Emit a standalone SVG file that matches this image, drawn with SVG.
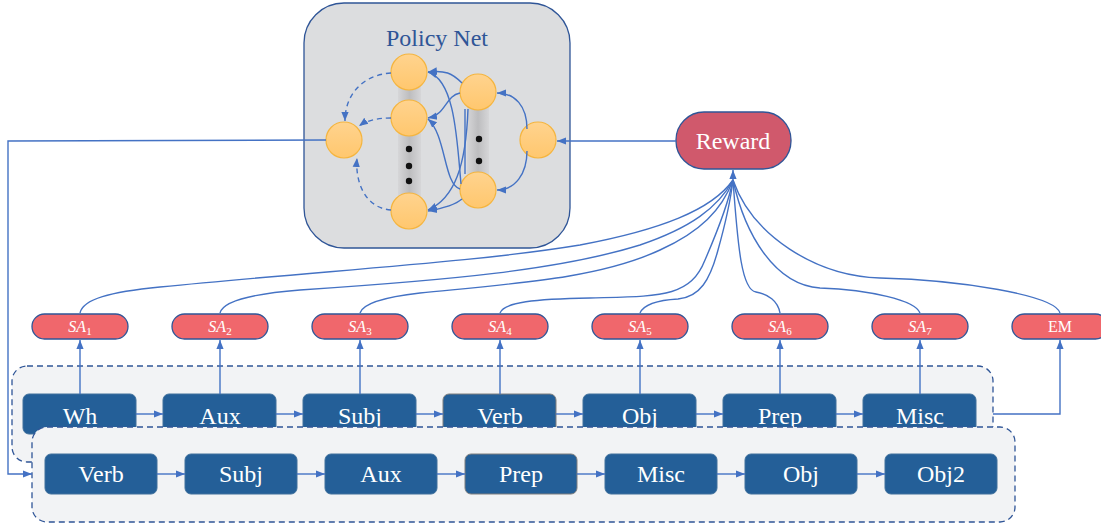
<svg xmlns="http://www.w3.org/2000/svg" width="1101" height="529" viewBox="0 0 1101 529">
<style>
.node rect{fill:#245F98;stroke:#41719C;stroke-width:1}
.node text{fill:#fff;font-family:"Liberation Serif",serif;font-size:24px;text-anchor:middle}
.pill rect{fill:#F0676C;stroke:#2F5597;stroke-width:1.3}
.pill text{fill:#fff;font-family:"Liberation Serif",serif;font-size:16px;text-anchor:middle}
.pill .it{font-style:italic}
.pill .sub{font-size:11px}
.dbox{fill:#F2F3F5;stroke:#2F5597;stroke-width:1.3;stroke-dasharray:6 4}
.c{fill:none;stroke:#4472C4;stroke-width:1.4}
.ca{fill:none;stroke:#4472C4;stroke-width:1.4;marker-end:url(#ah)}
.cd{fill:none;stroke:#4472C4;stroke-width:1.4;stroke-dasharray:5 4;marker-end:url(#ah)}
.circ{fill:url(#og);stroke:#F5B53F;stroke-width:1.2}
.dot{fill:#111}
</style>
<defs>
<marker id="ah" viewBox="0 0 10 10" refX="10" refY="5" markerWidth="9" markerHeight="9" markerUnits="userSpaceOnUse" orient="auto">
<path d="M0,1 L10,5 L0,9 z" fill="#4472C4"/>
</marker>
<linearGradient id="og" x1="0" y1="0" x2="0" y2="1">
<stop offset="0" stop-color="#FFD38E"/>
<stop offset="1" stop-color="#FFC76E"/>
</linearGradient>
<linearGradient id="bar" x1="0" y1="0" x2="1" y2="0">
<stop offset="0" stop-color="#D6D6D8"/>
<stop offset="0.5" stop-color="#BDBDBF"/>
<stop offset="1" stop-color="#D6D6D8"/>
</linearGradient>
</defs>

<g id="policy-net">
<rect x="304" y="3" width="266" height="245" rx="40" fill="#DCDDDF" stroke="#2F5597" stroke-width="1.3"/>
<text x="437" y="46" font-family="Liberation Serif,serif" font-size="24" fill="#2F5597" text-anchor="middle">Policy Net</text>
<rect x="398" y="72" width="23" height="139" fill="url(#bar)"/>
<rect x="467" y="92" width="22" height="98" fill="url(#bar)"/>
<circle class="dot" cx="409" cy="149" r="3.2"/>
<circle class="dot" cx="409" cy="166" r="3.2"/>
<circle class="dot" cx="409" cy="181" r="3.2"/>
<circle class="dot" cx="479" cy="139" r="3.2"/>
<circle class="dot" cx="479" cy="161" r="3.2"/>
<circle class="circ" cx="344" cy="140" r="18"/>
<circle class="circ" cx="409" cy="72" r="18"/>
<circle class="circ" cx="409" cy="118" r="18"/>
<circle class="circ" cx="409" cy="211" r="18"/>
<circle class="circ" cx="478" cy="92" r="18"/>
<circle class="circ" cx="478" cy="190" r="18"/>
<circle class="circ" cx="538" cy="140" r="18"/>
</g>

<g id="reward">
<rect x="676" y="112" width="115" height="57" rx="28" fill="#D0596C" stroke="#2F5597" stroke-width="1.3"/>
<text x="733" y="149" font-family="Liberation Serif,serif" font-size="24" fill="#fff" text-anchor="middle">Reward</text>
</g>

<g id="sa1" class="pill"><rect x="32" y="314" width="96" height="25" rx="12.5"/><text x="80" y="332"><tspan class="it">SA</tspan><tspan class="sub" dy="3">1</tspan></text></g>
<g id="sa2" class="pill"><rect x="172" y="314" width="96" height="25" rx="12.5"/><text x="220" y="332"><tspan class="it">SA</tspan><tspan class="sub" dy="3">2</tspan></text></g>
<g id="sa3" class="pill"><rect x="312" y="314" width="96" height="25" rx="12.5"/><text x="360" y="332"><tspan class="it">SA</tspan><tspan class="sub" dy="3">3</tspan></text></g>
<g id="sa4" class="pill"><rect x="452" y="314" width="96" height="25" rx="12.5"/><text x="500" y="332"><tspan class="it">SA</tspan><tspan class="sub" dy="3">4</tspan></text></g>
<g id="sa5" class="pill"><rect x="592" y="314" width="96" height="25" rx="12.5"/><text x="640" y="332"><tspan class="it">SA</tspan><tspan class="sub" dy="3">5</tspan></text></g>
<g id="sa6" class="pill"><rect x="732" y="314" width="96" height="25" rx="12.5"/><text x="780" y="332"><tspan class="it">SA</tspan><tspan class="sub" dy="3">6</tspan></text></g>
<g id="sa7" class="pill"><rect x="872" y="314" width="96" height="25" rx="12.5"/><text x="920" y="332"><tspan class="it">SA</tspan><tspan class="sub" dy="3">7</tspan></text></g>
<g id="em" class="pill"><rect x="1012" y="314" width="96" height="25" rx="12.5"/><text x="1060" y="332">EM</text></g>

<g id="seq1">
<rect class="dbox" x="12" y="366" width="981" height="96" rx="15"/>
<g id="t-wh" class="node"><rect x="23" y="394" width="113" height="40" rx="6"/><text x="80" y="424">Wh</text></g>
<g id="t-aux" class="node"><rect x="163" y="394" width="113" height="40" rx="6"/><text x="220" y="424">Aux</text></g>
<g id="t-subj" class="node"><rect x="303" y="394" width="113" height="40" rx="6"/><text x="360" y="424">Subj</text></g>
<g id="t-verb" class="node"><rect x="443" y="394" width="113" height="40" rx="6" style="stroke:#7F7F7F"/><text x="500" y="424">Verb</text></g>
<g id="t-obj" class="node"><rect x="583" y="394" width="113" height="40" rx="6"/><text x="640" y="424">Obj</text></g>
<g id="t-prep" class="node"><rect x="723" y="394" width="113" height="40" rx="6"/><text x="780" y="424">Prep</text></g>
<g id="t-misc" class="node"><rect x="863" y="394" width="113" height="40" rx="6"/><text x="920" y="424">Misc</text></g>
</g>

<g id="seq2">
<rect class="dbox" x="32" y="427" width="983" height="95" rx="15"/>
<g id="b-verb" class="node"><rect x="45" y="454" width="112" height="40" rx="6"/><text x="101" y="482">Verb</text></g>
<g id="b-subj" class="node"><rect x="185" y="454" width="112" height="40" rx="6"/><text x="241" y="482">Subj</text></g>
<g id="b-aux" class="node"><rect x="325" y="454" width="112" height="40" rx="6"/><text x="381" y="482">Aux</text></g>
<g id="b-prep" class="node"><rect x="465" y="454" width="112" height="40" rx="6" style="stroke:#7F7F7F"/><text x="521" y="482">Prep</text></g>
<g id="b-misc" class="node"><rect x="605" y="454" width="112" height="40" rx="6"/><text x="661" y="482">Misc</text></g>
<g id="b-obj" class="node"><rect x="745" y="454" width="112" height="40" rx="6"/><text x="801" y="482">Obj</text></g>
<g id="b-obj2" class="node"><rect x="885" y="454" width="112" height="40" rx="6"/><text x="941" y="482">Obj2</text></g>
</g>

<g id="connectors">
<path class="ca" d="M527,129 C527,106 515,93 497,93"/>
<path class="ca" d="M527,151 C527,174 515,190 497,190"/>
<path class="ca" d="M462,83 C452,73 445,70 428,72"/>
<path class="ca" d="M461,184 C457,140 455,80 428,72"/>
<path class="ca" d="M460,93 C445,96 447,114 428,118"/>
<path class="ca" d="M460,189 C444,185 446,135 428,119"/>
<path class="c" d="M465,109 L465,174"/>
<path class="ca" d="M468,109 C466,165 455,198 428,210"/>
<path class="ca" d="M462,199 C455,205 445,208 428,211"/>
<path class="cd" d="M391,73 C362,75 345,95 345,121"/>
<path class="cd" d="M391,118 C376,118 366,121 359,126"/>
<path class="cd" d="M391,210 C365,208 355,182 357,158"/>
<path class="ca" d="M676,141 L557,141"/>
<path class="ca" d="M326,140 L8,141 L8,474 L32,474"/>
<path class="c" d="M80,313 C83,299 110,292 160,287 C330,270 470,263 580,245 C660,230 712,210 733,180"/>
<path class="c" d="M220,313 C223,301 250,294 300,290 C450,280 560,270 640,245 C690,228 718,208 733,180"/>
<path class="c" d="M360,313 C363,303 385,297 420,293 C520,283 600,278 660,250 C700,232 722,210 733,180"/>
<path class="c" d="M500,313 C504,302 535,299 590,298 C660,296 690,298 705,260 C718,230 728,205 733,180"/>
<path class="c" d="M640,313 C644,304 660,300 678,299 C700,297 710,280 718,250 C725,225 730,205 733,180"/>
<path class="c" d="M780,313 C778,301 768,294 756,292 C742,290 738,250 733,180"/>
<path class="c" d="M920,313 C915,300 870,290 820,288 C775,285 745,235 733,180"/>
<path class="c" d="M1060,313 C1055,295 960,280 880,278 C815,276 752,235 733,180"/>
<path class="ca" d="M733,181 L733,170"/>
<path class="ca" d="M80,394 L80,340"/>
<path class="ca" d="M220,394 L220,340"/>
<path class="ca" d="M360,394 L360,340"/>
<path class="ca" d="M500,394 L500,340"/>
<path class="ca" d="M640,394 L640,340"/>
<path class="ca" d="M780,394 L780,340"/>
<path class="ca" d="M920,394 L920,340"/>
<path class="ca" d="M993,414 L1060,414 L1060,340"/>
<path class="ca" d="M136,414 L163,414"/>
<path class="ca" d="M276,414 L303,414"/>
<path class="ca" d="M416,414 L443,414"/>
<path class="ca" d="M556,414 L583,414"/>
<path class="ca" d="M696,414 L723,414"/>
<path class="ca" d="M836,414 L863,414"/>
<path class="ca" d="M157,474 L185,474"/>
<path class="ca" d="M297,474 L325,474"/>
<path class="ca" d="M437,474 L465,474"/>
<path class="ca" d="M577,474 L605,474"/>
<path class="ca" d="M717,474 L745,474"/>
<path class="ca" d="M857,474 L885,474"/>
</g>
</svg>
